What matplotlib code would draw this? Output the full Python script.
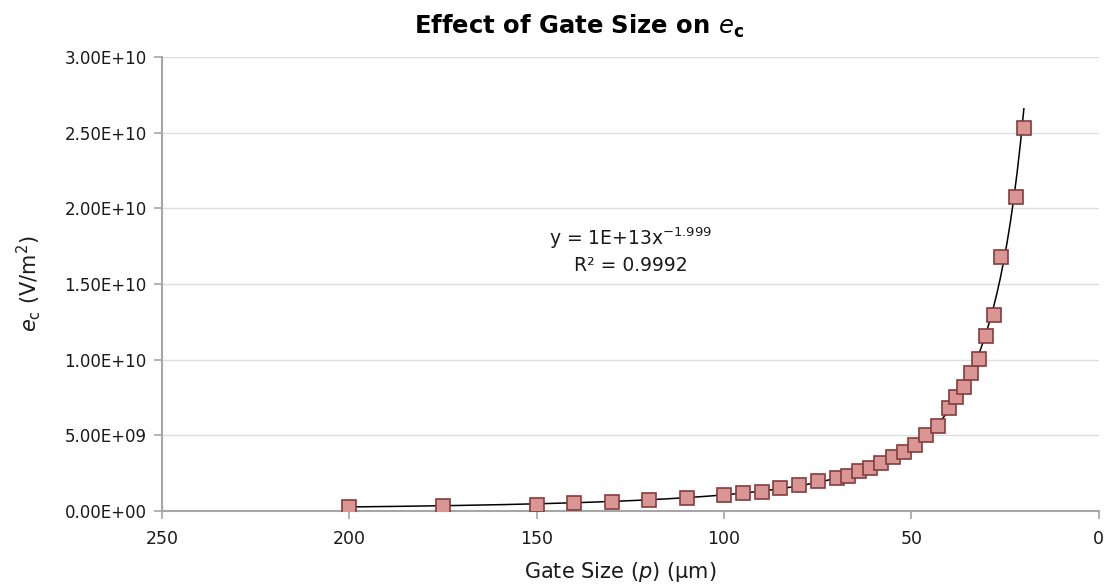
import numpy as np
import matplotlib.pyplot as plt
from matplotlib.ticker import FuncFormatter

# gate size p (um) and measured critical field e_c (V/m^2)
gate_size = [200, 175, 150, 140, 130, 120, 110, 100, 95, 90, 85, 80, 75, 70,
             67, 64, 61, 58, 55, 52, 49, 46, 43, 40, 38, 36, 34, 32, 30, 28,
             26, 22, 20]
e_c = [2.3e8, 3.2e8, 4.2e8, 5.2e8, 5.9e8, 7.2e8, 8.5e8, 1.05e9, 1.16e9,
       1.25e9, 1.51e9, 1.71e9, 1.95e9, 2.15e9, 2.32e9, 2.67e9, 2.87e9,
       3.16e9, 3.56e9, 3.93e9, 4.37e9, 5.05e9, 5.61e9, 6.82e9, 7.52e9,
       8.18e9, 9.15e9, 1.007e10, 1.157e10, 1.296e10, 1.681e10, 2.077e10,
       2.529e10]

# power-law trendline y = a * x^b
trend_a = 1.06e13
trend_b = -1.999
r_squared = 0.9992

y_ticks = np.arange(0, 3.01e10, 0.5e10)
x_ticks = [250, 200, 150, 100, 50, 0]

plt.rcParams['font.family'] = ['DejaVu Sans']

fig = plt.figure(figsize=(11.06, 5.88), dpi=100)
ax = fig.add_axes([0.1465, 0.131, 0.847, 0.772])

xs = np.linspace(min(gate_size), max(gate_size), 400)
ax.plot(xs, trend_a * xs ** trend_b, color='black', lw=1.1, zorder=2)
ax.plot(gate_size, e_c, linestyle='none', marker='s', markersize=9.5,
        markerfacecolor='#d99694', markeredgecolor='#843c3c',
        markeredgewidth=1.2, zorder=3)

ax.set_xlim(250, 0)
ax.set_ylim(0, 3e10)
ax.set_xticks(x_ticks)
ax.set_yticks(y_ticks)
ax.yaxis.set_major_formatter(FuncFormatter(lambda v, _: f"{v:.2E}"))
ax.grid(axis='y', color='#dedede', lw=1.0)
ax.set_axisbelow(True)

for side in ('top', 'right'):
    ax.spines[side].set_visible(False)
for side in ('left', 'bottom'):
    ax.spines[side].set_color('#a6a6a6')
    ax.spines[side].set_linewidth(1.5)
ax.tick_params(axis='both', colors='#a6a6a6', length=6, width=1.2)
ax.tick_params(axis='y', labelcolor='#1a1a1a', labelsize=12, pad=5)
ax.tick_params(axis='x', labelcolor='#1a1a1a', labelsize=12.5, pad=8)

ax.set_xlabel('Gate Size ($p$) (μm)', fontsize=15, color='#1a1a1a')
ax.xaxis.set_label_coords(0.489, -0.108)
ax.set_ylabel('$e_\\mathrm{c}$ (V/m$^2$)', fontsize=15, color='#1a1a1a')
ax.yaxis.set_label_coords(-0.127, 0.5)

fig.text(0.5235, 0.955, r'Effect of Gate Size on $\mathbf{\mathit{e}}_{\mathbf{c}}$',
         ha='center', va='center', fontsize=17.5, fontweight='bold')

ax.text(0.5005, 0.60, f'y = 1E+13x$^{{{trend_b}}}$', transform=ax.transAxes,
        ha='center', va='center', fontsize=13.5, color='#1a1a1a')
ax.text(0.5005, 0.54, f'R² = {r_squared}', transform=ax.transAxes,
        ha='center', va='center', fontsize=13.5, color='#1a1a1a')

fig.savefig('out.png', dpi=100)
